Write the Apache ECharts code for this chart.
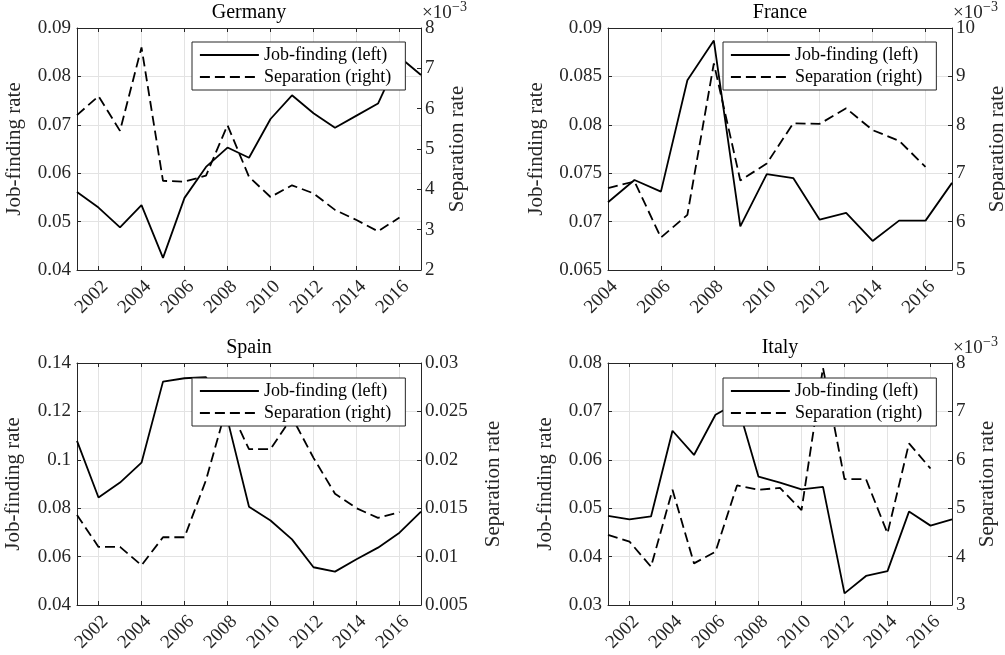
<!DOCTYPE html>
<html>
<head>
<meta charset="utf-8">
<script src="https://cdn.jsdelivr.net/npm/echarts@6/dist/echarts.min.js"></script>
<style>
  html, body { margin: 0; padding: 0; background: #ffffff; }
  #chart { width: 1005px; height: 655px; }
</style>
</head>
<body>
<div id="chart"></div>
<script>
// Annual flow rates out of and into unemployment, four economies.
const yearsLong = ['2001', '2002', '2003', '2004', '2005', '2006', '2007', '2008', '2009',
                   '2010', '2011', '2012', '2013', '2014', '2015', '2016', '2017'];
const yearsFrance = ['2004', '2005', '2006', '2007', '2008', '2009', '2010', '2011', '2012',
                     '2013', '2014', '2015', '2016', '2017'];

const germanyJobFinding = [0.0561, 0.0529, 0.0488, 0.0534, 0.0425, 0.0549, 0.0613, 0.0653, 0.0632,
                           0.0712, 0.0761, 0.0724, 0.0694, 0.0719, 0.0744, 0.0840, 0.0803];
const germanySeparation = [0.00584, 0.00631, 0.00545, 0.00752, 0.00421, 0.00419, 0.00434, 0.00559,
                           0.00431, 0.00381, 0.00410, 0.00390, 0.00349, 0.00324, 0.00296, 0.00330];

const franceJobFinding = [0.0720, 0.0743, 0.0731, 0.0846, 0.0887, 0.0695, 0.0749, 0.0745, 0.0702,
                          0.0709, 0.0680, 0.0701, 0.0701, 0.0740];
const franceSeparation = [0.00669, 0.00683, 0.00567, 0.00614, 0.00927, 0.00685, 0.00720, 0.00803,
                          0.00802, 0.00834, 0.00789, 0.00767, 0.00713];

const spainJobFinding = [0.1078, 0.0844, 0.0906, 0.0988, 0.1323, 0.1337, 0.1342, 0.1166, 0.0806,
                         0.0749, 0.0671, 0.0556, 0.0538, 0.0589, 0.0637, 0.0699, 0.0786];
const spainSeparation = [0.0143, 0.0110, 0.0110, 0.0091, 0.0120, 0.0120, 0.0179, 0.0258, 0.0211,
                         0.0211, 0.0244, 0.0202, 0.0165, 0.0150, 0.0140, 0.0146];

const italyJobFinding = [0.0484, 0.0477, 0.0483, 0.0660, 0.0610, 0.0693, 0.0718, 0.0565, 0.0553,
                         0.0539, 0.0544, 0.0324, 0.0360, 0.0370, 0.0493, 0.0464, 0.0477];
const italySeparation = [0.00445, 0.00431, 0.00379, 0.00538, 0.00386, 0.00410, 0.00547, 0.00538,
                         0.00542, 0.00496, 0.00790, 0.00560, 0.00560, 0.00448, 0.00634, 0.00582];

const JOB_NAME = 'Job-finding (left)';
const SEP_NAME = 'Separation (right)';

const FONT = "'Liberation Serif', 'DejaVu Serif', 'Times New Roman', serif";
const INK = '#262626';
const GRID_LINE = '#e3e3e3';
const PLOT_W = 344;
const PLOT_H = 242;

const panels = [
  { title: 'Germany', years: yearsLong, job: germanyJobFinding, sep: germanySeparation,
    x: 77, y: 28, leftScale: [0.04, 0.09, 0.01], rightScale: [0.002, 0.008, 0.001],
    perMille: true, gapL: 52, gapR: 26, legend: [192, 42] },
  { title: 'France', years: yearsFrance, job: franceJobFinding, sep: franceSeparation,
    x: 608, y: 28, leftScale: [0.065, 0.09, 0.005], rightScale: [0.005, 0.010, 0.001],
    perMille: true, gapL: 61, gapR: 35, legend: [723, 42] },
  { title: 'Spain', years: yearsLong, job: spainJobFinding, sep: spainSeparation,
    x: 77, y: 363, leftScale: [0.04, 0.14, 0.02], rightScale: [0.005, 0.03, 0.005],
    perMille: false, gapL: 53, gapR: 62, legend: [192, 378] },
  { title: 'Italy', years: yearsLong, job: italyJobFinding, sep: italySeparation,
    x: 608, y: 363, leftScale: [0.03, 0.08, 0.01], rightScale: [0.003, 0.008, 0.001],
    perMille: true, gapL: 52, gapR: 25, legend: [723, 378] }
];

const evenYear = (idx, value) => Number(value) % 2 === 0;
const axisLineStyle = { color: INK, width: 1 };
const tickText = { fontFamily: FONT, fontSize: 19, color: INK };
const nameText = { fontFamily: FONT, fontSize: 21, color: INK };

const grids = [], xAxes = [], yAxes = [], series = [], legends = [], graphics = [];

panels.forEach((p, i) => {
  grids.push({ left: p.x, top: p.y, width: PLOT_W, height: PLOT_H,
               containLabel: false, outerBoundsMode: 'none' });

  // bottom axis with year labels
  xAxes.push({
    type: 'category', gridIndex: i, position: 'bottom', data: p.years, boundaryGap: false,
    axisLine: { show: true, onZero: false, lineStyle: axisLineStyle },
    axisTick: { show: true, inside: true, length: 4, interval: evenYear, lineStyle: axisLineStyle },
    axisLabel: { show: true, interval: evenYear, rotate: 45, align: 'right', verticalAlign: 'top',
                 margin: 7, ...tickText },
    splitLine: { show: true, interval: evenYear, lineStyle: { color: GRID_LINE, width: 1 } }
  });
  // top edge of the box
  xAxes.push({
    type: 'category', gridIndex: i, position: 'top', data: p.years, boundaryGap: false,
    axisLine: { show: true, onZero: false, lineStyle: axisLineStyle },
    axisTick: { show: true, inside: true, length: 4, interval: evenYear, lineStyle: axisLineStyle },
    axisLabel: { show: false },
    splitLine: { show: false }
  });

  yAxes.push({
    type: 'value', gridIndex: i, position: 'left',
    min: p.leftScale[0], max: p.leftScale[1], interval: p.leftScale[2],
    name: 'Job-finding rate', nameLocation: 'middle', nameRotate: 90, nameGap: p.gapL,
    nameMoveOverlap: false, nameTextStyle: nameText,
    axisLine: { show: true, onZero: false, lineStyle: axisLineStyle },
    axisTick: { show: true, inside: true, length: 4, lineStyle: axisLineStyle },
    axisLabel: { show: true, margin: 6, ...tickText },
    splitLine: { show: true, lineStyle: { color: GRID_LINE, width: 1 } }
  });
  yAxes.push({
    type: 'value', gridIndex: i, position: 'right',
    min: p.rightScale[0], max: p.rightScale[1], interval: p.rightScale[2],
    name: 'Separation rate', nameLocation: 'middle', nameRotate: 90, nameGap: p.gapR,
    nameMoveOverlap: false, nameTextStyle: nameText,
    axisLine: { show: true, onZero: false, lineStyle: axisLineStyle },
    axisTick: { show: true, inside: true, length: 4, lineStyle: axisLineStyle },
    axisLabel: { show: true, margin: 4, ...tickText,
                 formatter: p.perMille ? (v => String(Math.round(v * 1000))) : undefined },
    splitLine: { show: false }
  });

  series.push({
    type: 'line', name: JOB_NAME, xAxisIndex: 2 * i, yAxisIndex: 2 * i, data: p.job,
    symbol: 'none', showSymbol: false, clip: true, z: 3,
    lineStyle: { color: '#000000', width: 1.8, type: 'solid' },
    itemStyle: { color: '#000000' }, emphasis: { disabled: true }
  });
  series.push({
    type: 'line', name: SEP_NAME, xAxisIndex: 2 * i, yAxisIndex: 2 * i + 1, data: p.sep,
    symbol: 'none', showSymbol: false, clip: true, z: 3,
    lineStyle: { color: '#000000', width: 1.8, type: [10, 5] },
    itemStyle: { color: '#000000' }, emphasis: { disabled: true }
  });

  legends.push({
    data: [JOB_NAME, SEP_NAME], orient: 'vertical', left: p.legend[0], top: p.legend[1],
    padding: [4, 14, 4, 7], itemGap: 4, itemWidth: 59, itemHeight: 14,
    backgroundColor: '#ffffff', borderColor: INK, borderWidth: 1, borderRadius: 0,
    selectedMode: false, z: 10,
    lineStyle: { width: 1.8 },
    itemStyle: { color: 'rgba(0,0,0,0)', borderWidth: 0, opacity: 0 },
    textStyle: { fontFamily: FONT, fontSize: 18, color: '#000000' }
  });

  // panel title
  graphics.push({
    type: 'text', x: p.x + PLOT_W / 2, y: p.y - 15,
    style: { text: p.title, font: '20px ' + FONT, fill: '#000000',
             align: 'center', verticalAlign: 'middle' }
  });
  // exponent note above the right axis
  if (p.perMille) {
    graphics.push({
      type: 'text', x: p.x + PLOT_W + 1, y: p.y - 15,
      style: { text: '\u00d710', font: '19px ' + FONT, fill: INK,
               align: 'left', verticalAlign: 'middle' }
    });
    graphics.push({
      type: 'text', x: p.x + PLOT_W + 31, y: p.y - 21,
      style: { text: '\u22123', font: '14px ' + FONT, fill: INK,
               align: 'left', verticalAlign: 'middle' }
    });
  }
});

const chart = echarts.init(document.getElementById('chart'), null, { renderer: 'canvas' });
chart.setOption({
  animation: false,
  backgroundColor: '#ffffff',
  grid: grids,
  xAxis: xAxes,
  yAxis: yAxes,
  legend: legends,
  series: series,
  graphic: graphics
});
</script>
</body>
</html>
